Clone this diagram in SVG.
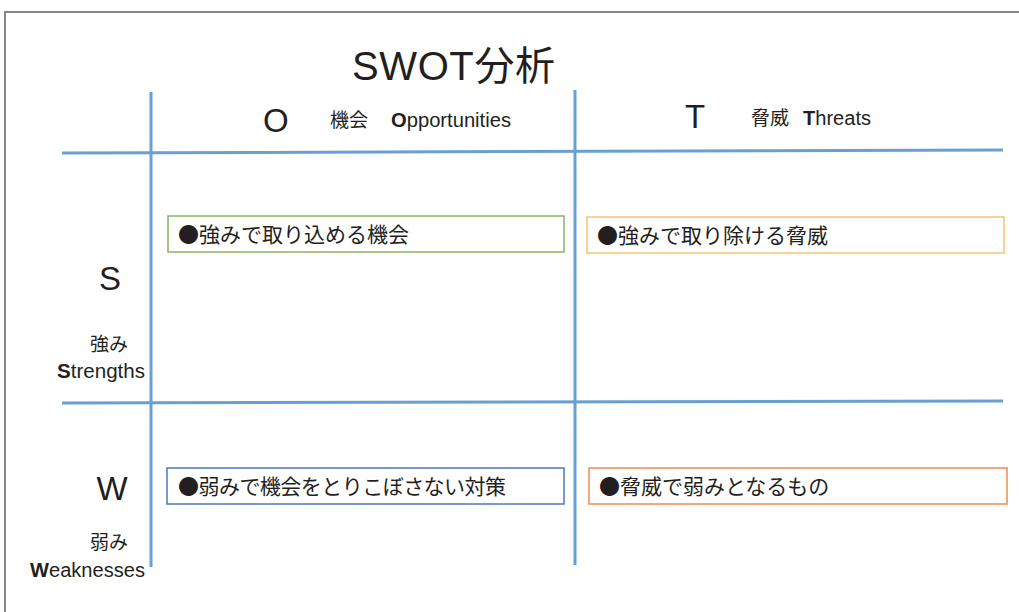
<svg xmlns="http://www.w3.org/2000/svg" width="1019" height="612" viewBox="0 0 1019 612">
<style>
text{font-family:"Liberation Sans","Noto Sans CJK JP",sans-serif;fill:#231f20}
.grid{stroke:#6a9fd1;stroke-width:3;fill:none}
.box{fill:#fff;stroke-width:1.5}
.bt{font-size:21px;font-family:"Noto Sans CJK JP",sans-serif}
.hd{font-size:20px}
.big{font-size:33px}
.side{font-size:19px}
</style>
<rect width="1019" height="612" fill="#fff"/>
<rect x="5" y="12" width="1030" height="620" fill="none" stroke="#858585" stroke-width="2"/>
<g id="title"><text x="352" y="80" font-size="40" textLength="203">SWOT分析</text></g>
<g id="connectors">
<line class="grid" x1="151" y1="92" x2="151" y2="567"/>
<line class="grid" x1="575" y1="90" x2="575" y2="565"/>
<line class="grid" x1="62" y1="153" x2="1003" y2="150"/>
<line class="grid" x1="62" y1="403" x2="1003" y2="401"/>
</g>
<g id="header-O">
<text class="big" x="263" y="132">O</text>
<text class="side" x="330" y="127">機会</text>
<text class="hd" x="391" y="127" textLength="120" lengthAdjust="spacingAndGlyphs"><tspan font-weight="bold">O</tspan>pportunities</text>
</g>
<g id="header-T">
<text class="big" x="685" y="128">T</text>
<text class="side" x="751" y="125">脅威</text>
<text class="hd" x="803" y="125" textLength="68" lengthAdjust="spacingAndGlyphs"><tspan font-weight="bold">T</tspan>hreats</text>
</g>
<g id="side-S">
<text class="big" x="110" y="290" text-anchor="middle">S</text>
<text class="side" x="128" y="351" text-anchor="end">強み</text>
<text class="hd" x="57" y="378" textLength="88" lengthAdjust="spacingAndGlyphs"><tspan font-weight="bold">S</tspan>trengths</text>
</g>
<g id="side-W">
<text class="big" x="112" y="500" text-anchor="middle">W</text>
<text class="side" x="128" y="549" text-anchor="end">弱み</text>
<text class="hd" x="30" y="577" textLength="115" lengthAdjust="spacingAndGlyphs"><tspan font-weight="bold">W</tspan>eaknesses</text>
</g>
<g id="box-SO">
<rect class="box" x="168" y="216" width="396" height="36" stroke="#8bb25f"/>
<text class="bt" x="178" y="242">●強みで取り込める機会</text>
</g>
<g id="box-ST">
<rect class="box" x="587" y="217" width="417" height="36" stroke="#f7c46c"/>
<text class="bt" x="597" y="243">●強みで取り除ける脅威</text>
</g>
<g id="box-WO">
<rect class="box" x="167" y="468" width="397" height="36" stroke="#4c78c0"/>
<text class="bt" x="178" y="494" textLength="328">●弱みで機会をとりこぼさない対策</text>
</g>
<g id="box-WT">
<rect class="box" x="589" y="468" width="418" height="36" stroke="#ef8a52"/>
<text class="bt" x="599" y="494">●脅威で弱みとなるもの</text>
</g>
</svg>
